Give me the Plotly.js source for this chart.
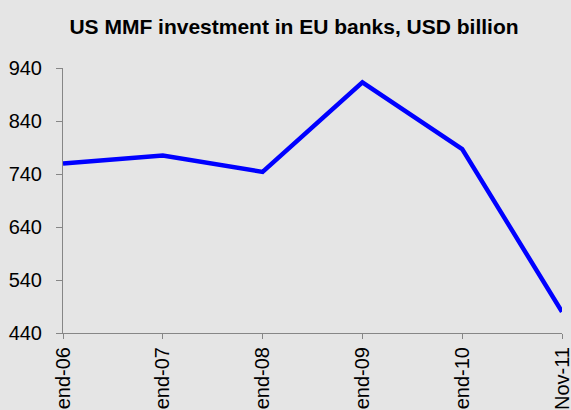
<!DOCTYPE html>
<html>
<head>
<meta charset="utf-8">
<script src="https://cdn.plot.ly/plotly-3.0.1.min.js"></script>
<style>
  html, body { margin: 0; padding: 0; background: #e5e5e5; }
  #chart { width: 571px; height: 410px; }
</style>
</head>
<body>
<div id="chart"></div>
<script>
const categories = ["end-06", "end-07", "end-08", "end-09", "end-10", "Nov-11"];
const investment = [760, 775, 744, 913, 787, 480];
const yTicks = [440, 540, 640, 740, 840, 940];

const trace = {
  x: categories,
  y: investment,
  type: "scatter",
  mode: "lines",
  line: { color: "#0000ff", width: 4.5 },
  cliponaxis: true,
  hoverinfo: "skip"
};

const layout = {
  width: 571,
  height: 410,
  paper_bgcolor: "#e5e5e5",
  plot_bgcolor: "#e5e5e5",
  margin: { l: 63, r: 9, t: 68, b: 77, pad: 0 },
  showlegend: false,
  font: { family: "Liberation Sans, Arial, sans-serif", color: "#000000", size: 20 },
  title: {
    text: "<b>US MMF investment in EU banks, USD billion</b>",
    font: { family: "Liberation Sans, Arial, sans-serif", size: 21, color: "#000000" },
    xref: "container", yref: "container",
    x: 294 / 571, xanchor: "center",
    y: 1 - 27 / 410, yanchor: "middle"
  },
  xaxis: {
    type: "category",
    range: [0, 5],
    showgrid: false,
    zeroline: false,
    showline: true,
    linecolor: "#868686",
    linewidth: 1,
    ticks: "outside",
    ticklen: 5,
    tickcolor: "#868686",
    tickangle: -90,
    tickfont: { size: 20 },
    automargin: false,
    fixedrange: true
  },
  yaxis: {
    range: [440, 940],
    tickvals: yTicks,
    ticktext: yTicks.map(String),
    showgrid: false,
    zeroline: false,
    showline: true,
    linecolor: "#868686",
    linewidth: 1,
    ticks: "outside",
    ticklen: 6,
    tickcolor: "#868686",
    tickfont: { size: 20 },
    ticklabelstandoff: 10,
    automargin: false,
    fixedrange: true
  }
};

Plotly.newPlot("chart", [trace], layout, { displayModeBar: false, staticPlot: true });
</script>
</body>
</html>
